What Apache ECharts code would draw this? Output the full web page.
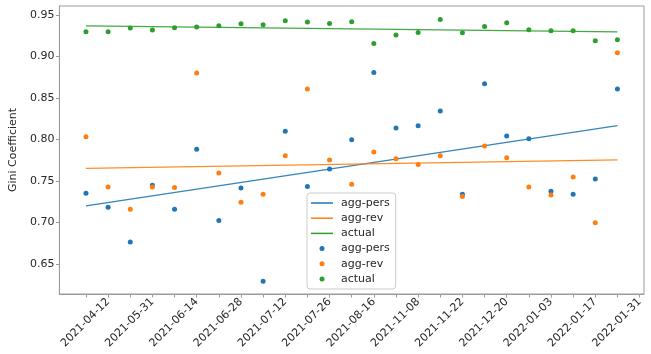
<!DOCTYPE html>
<html>
<head>
<meta charset="utf-8">
<script src="https://cdn.jsdelivr.net/npm/echarts@6/dist/echarts.min.js"></script>
<style>
  html, body { margin: 0; padding: 0; background: #fff; }
  #chart { width: 651px; height: 354px; }
</style>
</head>
<body>
<div id="chart"></div>
<script>
// Weekly Gini coefficients for three measures (point index 0..24)
const aggPers = [0.7354, 0.7186, 0.6768, 0.7450, 0.7161, 0.7884, 0.7025, 0.7418, 0.6295, 0.8100,
                 0.7434, 0.7647, 0.8000, 0.8810, 0.8140, 0.8168, 0.8345, 0.7342, 0.8674, 0.8044,
                 0.8012, 0.7378, 0.7342, 0.7526, 0.8610];
const aggRev  = [0.8036, 0.7430, 0.7161, 0.7430, 0.7422, 0.8802, 0.7599, 0.7246, 0.7342, 0.7807,
                 0.8610, 0.7755, 0.7462, 0.7851, 0.7771, 0.7699, 0.7807, 0.7314, 0.7924, 0.7783,
                 0.7430, 0.7334, 0.7550, 0.6997, 0.9047];
const actual  = [0.9300, 0.9300, 0.9344, 0.9320, 0.9348, 0.9356, 0.9372, 0.9396, 0.9384, 0.9432,
                 0.9416, 0.9400, 0.9420, 0.9159, 0.9260, 0.9291, 0.9448, 0.9287, 0.9364, 0.9408,
                 0.9324, 0.9311, 0.9311, 0.9191, 0.9203];

// Date labels shown on every other x tick (positions 1, 3, 5, ...)
const dateLabels = ['2021-04-12', '2021-05-31', '2021-06-14', '2021-06-28', '2021-07-12',
                    '2021-07-26', '2021-08-16', '2021-11-08', '2021-11-22', '2021-12-20',
                    '2022-01-03', '2022-01-17', '2022-01-31'];
const yTicks = [0.65, 0.70, 0.75, 0.80, 0.85, 0.90, 0.95];

const names = ['agg-pers', 'agg-rev', 'actual'];
const colors = ['#1f77b4', '#ff7f0e', '#2ca02c'];
const values = [aggPers, aggRev, actual];

// Least-squares straight line over the point index
function fitLine(ys) {
  const n = ys.length;
  let sx = 0, sy = 0, sxx = 0, sxy = 0;
  ys.forEach((y, x) => { sx += x; sy += y; sxx += x * x; sxy += x * y; });
  const b = (n * sxy - sx * sy) / (n * sxx - sx * sx);
  const a = (sy - b * sx) / n;
  return [[0, a], [n - 1, a + b * (n - 1)]];
}

const FONT = 'DejaVu Sans';
const TXT = '#262626';
const AXIS = '#9a9a9a';

const tickPositions = [];
for (let i = 0; i <= 25; i++) tickPositions.push(i);
const labelPositions = dateLabels.map((_, i) => 2 * i + 1);

const lineIcon = 'path://M0,0h22v1.5h-22z';
const series = [];
const legendData = [];
values.forEach((ys, k) => {
  series.push({
    name: names[k] + ' fit',
    type: 'line',
    data: fitLine(ys),
    showSymbol: false,
    symbol: 'none',
    lineStyle: { color: colors[k], width: 1.3, opacity: 0.9 },
    itemStyle: { color: colors[k] },
    z: 2,
    silent: true
  });
  legendData.push({ name: names[k] + ' fit', icon: lineIcon });
});
values.forEach((ys, k) => {
  series.push({
    name: names[k] + ' pts',
    type: 'scatter',
    data: ys.map((y, x) => [x, y]),
    symbolSize: 5,
    itemStyle: { color: colors[k], opacity: 1 },
    z: 3,
    silent: true
  });
  legendData.push({ name: names[k] + ' pts', icon: 'circle' });
});

const chart = echarts.init(document.getElementById('chart'), null, { renderer: 'canvas' });
chart.setOption({
  animation: false,
  backgroundColor: '#fff',
  grid: {
    left: 54, right: 7, top: 6, bottom: 60,
    show: true, borderColor: AXIS, borderWidth: 1, backgroundColor: 'transparent'
  },
  legend: {
    data: legendData,
    orient: 'vertical',
    left: 307, top: 193,
    itemWidth: 22, itemHeight: 5,
    itemGap: 3.2,
    symbolKeepAspect: true,
    padding: [4, 6, 4, 4],
    backgroundColor: 'rgba(255,255,255,0.85)',
    borderColor: '#cccccc', borderWidth: 1, borderRadius: 3,
    selectedMode: false,
    formatter: n => n.replace(/ (fit|pts)$/, ''),
    textStyle: { fontFamily: FONT, fontSize: 11, color: TXT, lineHeight: 12, padding: [0, 0, 0, 3] }
  },
  xAxis: {
    type: 'value',
    min: -1.2, max: 25.2,
    splitLine: { show: false },
    axisLine: { show: true, onZero: false, lineStyle: { color: AXIS } },
    axisTick: { show: true, length: 3.5, lineStyle: { color: AXIS }, customValues: tickPositions },
    axisLabel: {
      customValues: labelPositions,
      rotate: 45, margin: 6,
      fontFamily: FONT, fontSize: 11, color: TXT,
      formatter: v => dateLabels[Math.round((v - 1) / 2)]
    }
  },
  yAxis: {
    type: 'value',
    min: 0.614, max: 0.961,
    name: 'Gini Coefficient',
    nameLocation: 'middle', nameGap: 28,
    nameTextStyle: { fontFamily: FONT, fontSize: 11, color: TXT },
    splitLine: { show: false },
    axisLine: { show: true, onZero: false, lineStyle: { color: AXIS } },
    axisTick: { show: true, length: 3.5, lineStyle: { color: AXIS }, customValues: yTicks },
    axisLabel: {
      customValues: yTicks,
      margin: 5,
      fontFamily: FONT, fontSize: 11, color: TXT,
      formatter: v => v.toFixed(2)
    }
  },
  series: series
});
</script>
</body>
</html>
